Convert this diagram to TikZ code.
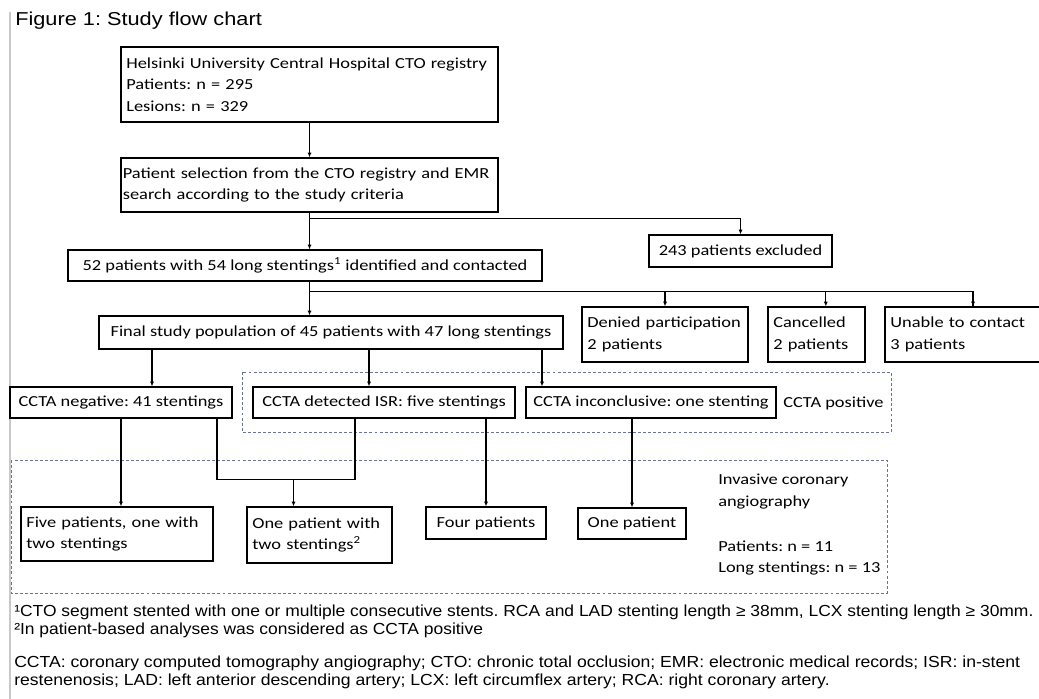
\documentclass[tikz,border=0pt]{standalone}
\usepackage{fontspec}
\usepackage{graphicx}
\setmainfont{Carlito}[FakeStretch=1.2]
\newfontfamily\capfont{Liberation Sans}
\usetikzlibrary{arrows.meta}
\frenchspacing
\newcommand{\widetext}[2][1.09]{\scalebox{#1}[1]{#2}}

\tikzset{
  box/.style={draw, line width=0.9pt, rectangle, inner xsep=4pt, inner ysep=3pt,
    font=\fontsize{11.5}{16}\selectfont},
  lbox/.style={box, align=left},
  cbox/.style={box, align=center},
  arr/.style={line width=0.9pt, -{Latex[length=3.5pt,width=3pt]}},
  link/.style={line width=0.9pt},
  grp/.style={draw={rgb,255:red,105;green,115;blue,150}, line width=0.6pt, dash pattern={on 2.2pt off 1.6pt}},
  note/.style={font=\capfont\fontsize{12}{13.5}\selectfont, align=left, inner sep=0pt}
}

\begin{document}
\begin{tikzpicture}[x=0.75pt,y=0.75pt,yscale=-1,xscale=1]
\useasboundingbox (0,0) rectangle (1039,699);

%Straight Lines
\draw [color={rgb, 255:red, 200; green, 200; blue, 200 }, line width=1.5pt] (10,12) -- (10,699) ;

% Text Node
\node [anchor=west, inner sep=0pt, font=\capfont\fontsize{14}{15}\selectfont] (title) at (15,21) {\widetext[1.165]{Figure 1: Study flow chart}};

%Shape: Rectangle
\node [lbox, text width=274.75pt, minimum height=56.25pt] (reg) at (309.5,84.5) {Helsinki University Central Hospital CTO registry\\Patients: n = 295\\Lesions: n = 329};
\node [lbox, inner xsep=1.4pt, text width=280pt, minimum height=40.5pt] (sel) at (309.5,185) {Patient selection from the CTO registry and EMR\\search according to the study criteria};
\node [cbox, minimum width=355.5pt, minimum height=23.25pt] (ident) at (305,265.5) {52 patients with 54 long stentings\textsuperscript{1} identified and contacted};
\node [cbox, minimum width=137.25pt, minimum height=24pt] (excl) at (740.5,251) {243 patients excluded};
\node [cbox, minimum width=348pt, minimum height=24.75pt] (final) at (331,332.5) {Final study population of 45 patients with 47 long stentings};
\node [lbox, text width=116.5pt, minimum height=41.25pt] (denied) at (665,334.5) {Denied participation\\2 patients};
\node [lbox, text width=64.75pt, minimum height=41.25pt] (cancel) at (816.5,334.5) {Cancelled\\2 patients};
\node [lbox, text width=124pt, minimum height=41.25pt] (unable) at (973,334.5) {Unable to contact\\3 patients};
\node [cbox, minimum width=166.5pt, minimum height=23.25pt] (neg) at (121,402.5) {CCTA negative: 41 stentings};
\node [cbox, minimum width=196.5pt, minimum height=23.25pt] (isr) at (384,402.5) {CCTA detected ISR: five stentings};
\node [cbox, minimum width=187.5pt, minimum height=23.25pt] (incon) at (651,402.5) {CCTA inconclusive: one stenting};
\node [lbox, text width=136pt, minimum height=40.5pt] (five) at (117,534) {Five patients, one with\\two stentings};
\node [lbox, text width=100.75pt, minimum height=42pt] (onetwo) at (319.5,535) {One patient with\\two stentings\textsuperscript{2}};
\node [cbox, minimum width=90pt, minimum height=24pt] (four) at (486,523) {Four patients};
\node [cbox, minimum width=81pt, minimum height=23.25pt] (one) at (632,523.5) {One patient};

% Text Node
\node [anchor=west, inner sep=0pt, font=\fontsize{11.5}{16}\selectfont] (pos) at (783,403) {CCTA positive};
\node [anchor=north west, inner sep=0pt, align=left, font=\fontsize{11.5}{16}\selectfont] (ica) at (718,474) {Invasive coronary\\angiography\\[18pt]Patients: n = 11\\Long stentings: n = 13};

%Shape: Rectangle
\draw [grp] (242,372) rectangle (891,432) ;
\draw [grp] (11,460) rectangle (887,593) ;

%Straight Lines
\draw [arr] (reg) -- (sel) ;
\draw [arr] (sel.south) -- (sel.south |- ident.north) ;
\draw [arr] (sel.south) ++(0,6) -| (excl.north) ;
\draw [arr] (sel.south |- ident.south) -- (sel.south |- final.north) ;
\draw [link] (sel.south |- ident.south) ++(0,10) coordinate (split) -| ([xshift=0pt]unable.north) ;
\draw [arr] (denied.north |- split) -- (denied.north) ;
\draw [arr] ([xshift=7pt]cancel.north |- split) -- ([xshift=7pt]cancel.north) ;
\draw [arr] (unable.north |- split) -- (unable.north) ;
\draw [arr] ([xshift=23.25pt]neg.north |- final.south) -- ([xshift=23.25pt]neg.north) ;
\draw [arr] ([xshift=-11.25pt]isr.north |- final.south) -- ([xshift=-11.25pt]isr.north) ;
\draw [arr] ([xshift=-81.75pt]incon.north |- final.south) -- ([xshift=-81.75pt]incon.north) ;
\draw [arr] (neg.south) -- (neg.south |- five.north) ;
\draw [link] ([xshift=72pt]neg.south) -- ++(0,61) coordinate (merge) -| ([xshift=-21.75pt]isr.south) ;
\draw [arr] ([xshift=-19.5pt]onetwo.north |- merge) -- ([xshift=-19.5pt]onetwo.north) ;
\draw [arr] (four.north |- isr.south) -- (four.north) ;
\draw [arr] (one.north |- incon.south) -- (one.north) ;

% Text Node
\node [note, anchor=north west] (fn) at (14,605) {\widetext{¹CTO segment stented with one or multiple consecutive stents. RCA and LAD stenting length ≥ 38mm, LCX stenting length ≥ 30mm.}\\\widetext{²In patient-based analyses was considered as CCTA positive}};
\node [note, anchor=north west] (abbr) at (14,656) {\widetext[1.1]{CCTA: coronary computed tomography angiography; CTO: chronic total occlusion; EMR: electronic medical records; ISR: in-stent}\\\widetext[1.1]{restenenosis; LAD: left anterior descending artery; LCX: left circumflex artery; RCA: right coronary artery.}};

\end{tikzpicture}
\end{document}
